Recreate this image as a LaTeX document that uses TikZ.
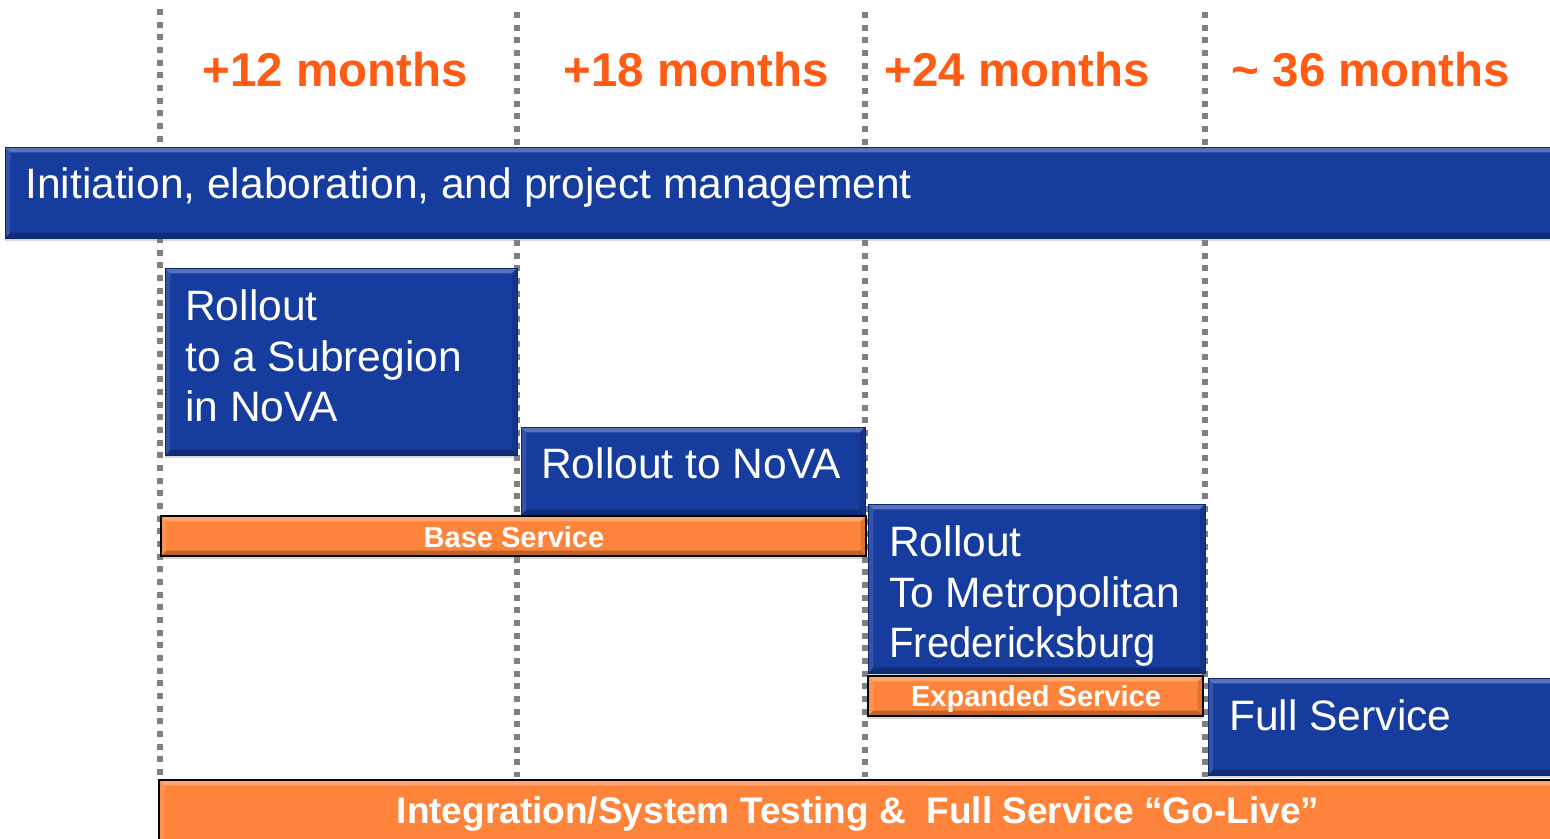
\documentclass[tikz,border=0pt]{standalone}
\usepackage{fontspec}
\setmainfont{Liberation Sans}
\usetikzlibrary{fit,shadows}
\definecolor{pblue}{RGB}{22,60,158}
\definecolor{pbluedark}{RGB}{14,38,110}
\definecolor{porange}{RGB}{253,132,58}
\definecolor{hdrorange}{RGB}{255,91,20}
\definecolor{ggray}{RGB}{128,128,128}
\begin{document}
\begin{tikzpicture}[x=0.75pt,y=-0.75pt,
  gridline/.style={draw=ggray, line width=4.4pt, dash pattern=on 4.4pt off 5.1pt},
  bevel/.style={path picture={
    \coordinate (bnw) at (path picture bounding box.north west);
    \coordinate (bse) at (path picture bounding box.south east);
    \fill[white,opacity=.28] (bnw) -- (bnw -| bse) -- ([shift={(-4pt,-4pt)}]bnw -| bse) -- ([shift={(4pt,-4pt)}]bnw) -- cycle;
    \fill[white,opacity=.12] (bnw) -- ([shift={(4pt,-4pt)}]bnw) -- ([shift={(4pt,4pt)}]bnw |- bse) -- (bnw |- bse) -- cycle;
    \fill[black,opacity=.25] (bnw |- bse) -- (bse) -- ([shift={(-4pt,4pt)}]bse) -- ([shift={(4pt,4pt)}]bnw |- bse) -- cycle;
    \fill[black,opacity=.12] (bse) -- ([shift={(-4pt,4pt)}]bse) -- ([shift={(-4pt,-4pt)}]bnw -| bse) -- (bnw -| bse) -- cycle;
  }},
  bluebox/.style={rectangle, inner sep=0pt, fill=pblue, draw=pbluedark, line width=0.6pt,
    drop shadow={shadow xshift=0pt, shadow yshift=-2.5pt, opacity=0.3}, bevel},
  orangebar/.style={rectangle, inner sep=0pt, fill=porange, draw=black, line width=1.4pt,
    drop shadow={shadow xshift=0pt, shadow yshift=-2.5pt, opacity=0.3}, bevel},
  btxt/.style={text=white, inner sep=0pt, align=left, font=\fontsize{31.9}{38.2}\selectfont},
  hdr/.style={text=hdrorange, inner sep=0pt, font=\bfseries\fontsize{35.6}{40}\selectfont},
  otxt/.style={text=white, inner sep=0pt, font=\bfseries\fontsize{21.75}{26}\selectfont},
  otxtbig/.style={text=white, inner sep=0pt, font=\bfseries\fontsize{27.75}{32}\selectfont}]
\useasboundingbox (0,0) rectangle (1550,839);
% grid lines
\draw[gridline] (160,9) -- (160,777);
\draw[gridline] (517,12) -- (517,777);
\draw[gridline] (865,12) -- (865,777);
\draw[gridline] (1205,12) -- (1205,777);
% headers
\node[hdr] (h1) at (335,70) {+12 months};
\node[hdr] (h2) at (696,70) {+18 months};
\node[hdr] (h3) at (1017,70) {+24 months};
\node[hdr] (h4) at (1371,70) {\textasciitilde{} 36 months};
% boxes
\node[bluebox, fit={(5,147) (1562,238)}] (top) {};
\node[bluebox, fit={(165,268) (517,455)}] (r1) {};
\node[bluebox, fit={(521,427) (865,515)}] (r2) {};
\node[orangebar, fit={(161,516) (866,556)}] (base) {};
\node[bluebox, fit={(868,504) (1205,673)}] (r3) {};
\node[orangebar, fit={(868,676) (1203,716)}] (exp) {};
\node[bluebox, fit={(1208,678) (1562,775)}] (full) {};
\node[orangebar, fit={(159,780) (1562,848)}] (golive) {};
% texts
\node[btxt, anchor=base west] (topt) at (25,198) {Initiation, elaboration, and project management};
\node[btxt, anchor=north west] (r1t) at (185,289) {Rollout\\to a Subregion\\in NoVA};
\node[btxt, anchor=base west] (r2t) at (541,478) {Rollout to NoVA};
\node[otxt, anchor=base] (baset) at (514,547) {Base Service};
\node[btxt, anchor=north west] (r3t) at (889,525) {Rollout\\To Metropolitan\\\scalebox{0.94}[1]{Fredericksburg}};
\node[otxt, anchor=base] (expt) at (1036,706) {Expanded Service};
\node[btxt, anchor=base west] (fullt) at (1229,730) {Full Service};
\node[otxtbig, anchor=base] (golivet) at (858,823) {Integration/System Testing \&\ \ Full Service “Go-Live”};
\end{tikzpicture}
\end{document}
